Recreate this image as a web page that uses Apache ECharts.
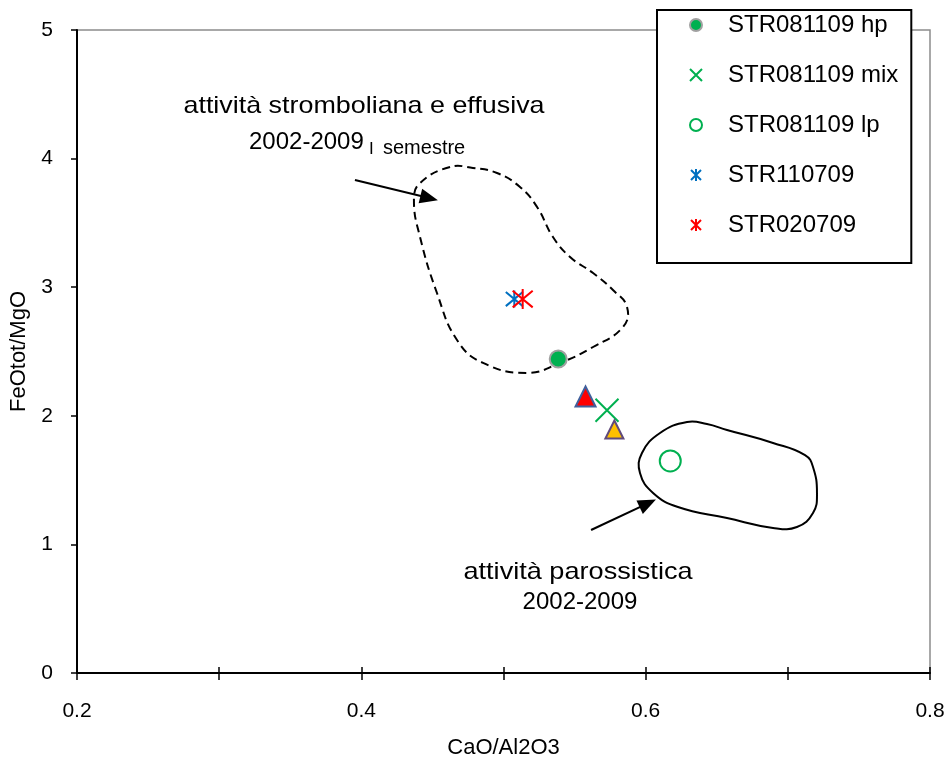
<!DOCTYPE html>
<html>
<head>
<meta charset="utf-8">
<script src="https://cdn.jsdelivr.net/npm/echarts@6/dist/echarts.min.js"></script>
<style>
  html, body { margin: 0; padding: 0; background: #fff; }
  #chart { width: 946px; height: 762px; }
</style>
</head>
<body>
<div id="chart"></div>
<script>
// dati (CaO/Al2O3, FeOtot/MgO)
const hpPoints = [[0.5385, 2.442]];
const mixPoints = [[0.5728, 2.043]];
const lpPoints = [[0.6173, 1.649]];
const str110709Points = [[0.5076, 2.908]];
const str020709Points = [[0.5135, 2.908]];
const redTrianglePoints = [[0.5577, 2.150]];
const orangeTrianglePoints = [[0.578, 1.893]];

// campo attività stromboliana e effusiva (tratteggiato)
const strombolianaContour = [
    [0.4624, 3.935], [0.4413, 3.810], [0.4370, 3.678], [0.4413, 3.390],
    [0.4532, 2.955], [0.4673, 2.589], [0.4856, 2.411], [0.5165, 2.333],
    [0.5397, 2.411], [0.5630, 2.535], [0.5840, 2.690], [0.5869, 2.846],
    [0.5770, 2.978], [0.5630, 3.110], [0.5468, 3.235], [0.5348, 3.390],
    [0.5236, 3.624], [0.5116, 3.779], [0.4954, 3.888], [0.4785, 3.927]
];
// campo attività parossistica (continuo)
const parossisticaContour = [
    [0.6291, 1.952], [0.6101, 1.866], [0.5974, 1.711], [0.5960, 1.555],
    [0.6052, 1.400], [0.6227, 1.291], [0.6572, 1.205], [0.6896, 1.128],
    [0.7064, 1.135], [0.7177, 1.244], [0.7205, 1.400], [0.7177, 1.602],
    [0.7121, 1.695], [0.6896, 1.789], [0.6572, 1.890], [0.6431, 1.936]
];
const arrowStromboliana = [[0.3955, 3.834], [0.4477, 3.693]];
const arrowParossistica = [[0.5616, 1.112], [0.6015, 1.319]];

const legendNames = ['STR081109 hp', 'STR081109 mix', 'STR081109 lp', 'STR110709', 'STR020709'];

const FONT = "'Liberation Sans', Arial, sans-serif";
const crossPath = 'path://M0,0L10,10M10,0L0,10';
const starPath = 'path://M0,0L10,10M10,0L0,10M5,-1L5,11';

const myChart = echarts.init(document.getElementById('chart'));

function contourSeries(points, dash, width){
    return {
        type: 'custom',
        silent: true,
        z: 1,
        data: points,
        renderItem: function(params, api){
            if (params.dataIndex !== 0) return;
            const pts = points.map(function(p){ return api.coord(p); });
            return {
                type: 'polygon',
                shape: { points: pts, smooth: 0.45 },
                style: { fill: 'none', stroke: '#000', lineWidth: width, lineDash: dash }
            };
        }
    };
}

function label(text, x, y, size, align, sx){
    return {
        type: 'text', x: x, y: y, scaleX: sx || 1,
        style: { text: text, font: size + 'px ' + FONT, fill: '#000', textAlign: align, textVerticalAlign: 'middle' }
    };
}

const option = {
    backgroundColor: '#fff',
    animation: false,
    textStyle: { fontFamily: FONT },
    grid: {
        left: 77, right: 16, top: 30, bottom: 89,
        outerBoundsMode: 'none', containLabel: false,
        show: true, borderColor: '#8c8c8c', borderWidth: 1.5
    },
    legend: {
        data: legendNames,
        orient: 'vertical',
        left: 657,
        top: 10,
        padding: [3, 13, 26, 32],
        itemWidth: 54,
        itemHeight: 12,
        itemGap: 26,
        backgroundColor: '#fff',
        borderColor: '#000',
        borderWidth: 2,
        textStyle: { fontSize: 24, color: '#000', fontFamily: FONT, lineHeight: 24 }
    },
    xAxis: [{
        type: 'value', min: 0.2, max: 0.8, interval: 0.1,
        name: 'CaO/Al2O3', nameLocation: 'middle', nameGap: 64,
        nameTextStyle: { fontSize: 22, color: '#000', fontFamily: FONT },
        axisLine: { lineStyle: { color: '#000', width: 2 } },
        axisTick: { show: true, length: 7, lineStyle: { color: '#000', width: 1.5 } },
        axisLabel: {
            fontSize: 21, color: '#000', margin: 28, fontFamily: FONT,
            formatter: function(v){ return Math.round(v * 10) % 2 === 0 ? v.toFixed(1) : ''; }
        },
        splitLine: { show: false }
    }, {
        type: 'value', min: 0.2, max: 0.8, interval: 0.1, position: 'bottom',
        axisLine: { show: false },
        axisTick: { show: true, inside: true, length: 6, lineStyle: { color: '#000', width: 1.5 } },
        axisLabel: { show: false },
        splitLine: { show: false }
    }],
    yAxis: {
        type: 'value', min: 0, max: 5, interval: 1,
        name: 'FeOtot/MgO', nameLocation: 'middle', nameGap: 45,
        nameTextStyle: { fontSize: 22, color: '#000', fontFamily: FONT },
        axisLine: { lineStyle: { color: '#000', width: 2 } },
        axisTick: { length: 6, lineStyle: { color: '#000', width: 1.5 } },
        axisLabel: { fontSize: 21, color: '#000', margin: 24, fontFamily: FONT },
        splitLine: { show: false }
    },
    graphic: [
        label('attività stromboliana e effusiva', 364, 106, 24, 'center', 1.12),
        label('2002-2009', 249, 142, 24, 'left'),
        label('I', 369, 149, 17, 'left'),
        label('semestre', 383, 148, 20, 'left'),
        label('attività parossistica', 578, 572, 24, 'center', 1.13),
        label('2002-2009', 580, 602, 24, 'center')
    ],
    series: [
        contourSeries(strombolianaContour, [8, 5], 2),
        contourSeries(parossisticaContour, null, 2),
        {
            name: 'STR081109 hp', type: 'scatter', z: 3,
            symbol: 'circle', symbolSize: 17,
            itemStyle: { color: '#00b050', borderColor: '#a0a0a0', borderWidth: 2, opacity: 1 },
            data: hpPoints
        },
        {
            name: 'STR081109 mix', type: 'scatter', z: 3,
            symbol: crossPath, symbolSize: 23,
            itemStyle: { color: 'rgba(0,0,0,0)', borderColor: '#00b050', borderWidth: 2, opacity: 1 },
            data: mixPoints
        },
        {
            name: 'STR081109 lp', type: 'scatter', z: 3,
            symbol: 'circle', symbolSize: 21,
            itemStyle: { color: 'rgba(255,255,255,0)', borderColor: '#00b050', borderWidth: 2, opacity: 1 },
            data: lpPoints
        },
        {
            name: 'STR110709', type: 'scatter', z: 3,
            symbol: starPath, symbolSize: 17,
            itemStyle: { color: 'rgba(0,0,0,0)', borderColor: '#0070c0', borderWidth: 2, opacity: 1 },
            data: str110709Points
        },
        {
            name: 'STR020709', type: 'scatter', z: 3,
            symbol: starPath, symbolSize: 20,
            itemStyle: { color: 'rgba(0,0,0,0)', borderColor: '#ff0000', borderWidth: 2, opacity: 1 },
            data: str020709Points
        },
        {
            name: 'triangolo rosso', type: 'scatter', z: 3,
            symbol: 'triangle', symbolSize: 20,
            itemStyle: { color: '#ff0000', borderColor: '#41609c', borderWidth: 2, opacity: 1 },
            data: redTrianglePoints
        },
        {
            name: 'triangolo arancio', type: 'scatter', z: 3,
            symbol: 'triangle', symbolSize: 18,
            itemStyle: { color: '#ffc000', borderColor: '#604a7b', borderWidth: 2, opacity: 1 },
            data: orangeTrianglePoints,
            markLine: {
                silent: true,
                symbol: ['none', 'triangle'],
                symbolSize: [15, 18],
                label: { show: false },
                lineStyle: { color: '#000', width: 2, type: 'solid' },
                data: [
                    [{ coord: arrowStromboliana[0] }, { coord: arrowStromboliana[1] }],
                    [{ coord: arrowParossistica[0] }, { coord: arrowParossistica[1] }]
                ]
            }
        }
    ]
};
myChart.setOption(option);
</script>
</body>
</html>
